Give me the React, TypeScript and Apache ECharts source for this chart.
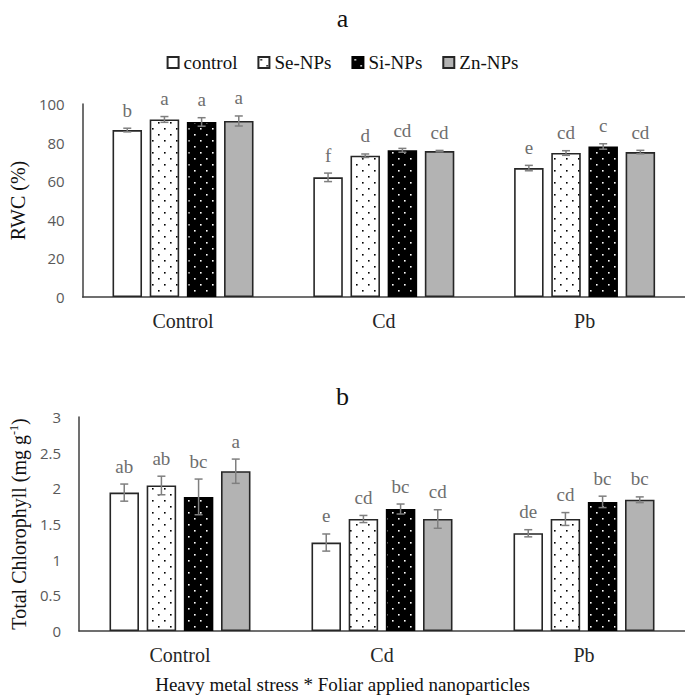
import React, { useEffect, useRef } from "react";
import * as echarts from "echarts";

// ---- Data ----
const groups = ["Control", "Cd", "Pb"];
const treatments = ["control", "Se-NPs", "Si-NPs", "Zn-NPs"];

// RWC (%)
const rwcControl = [86.5, 62.0, 66.8];
const rwcSe = [92.0, 73.2, 74.6];
const rwcSi = [90.7, 76.0, 78.0];
const rwcZn = [91.2, 75.6, 75.1];
const rwcErrControl = [0.95, 2.2, 1.4];
const rwcErrSe = [1.5, 0.9, 1.2];
const rwcErrSi = [2.2, 1.0, 1.4];
const rwcErrZn = [2.6, 0.35, 0.9];
const rwcLetControl = ["b", "f", "e"];
const rwcLetSe = ["a", "d", "cd"];
const rwcLetSi = ["a", "cd", "c"];
const rwcLetZn = ["a", "cd", "cd"];

// Total chlorophyll (mg g-1)
const chlControl = [1.94, 1.24, 1.37];
const chlSe = [2.04, 1.57, 1.57];
const chlSi = [1.88, 1.71, 1.81];
const chlZn = [2.24, 1.57, 1.84];
const chlErrControl = [0.12, 0.12, 0.05];
const chlErrSe = [0.13, 0.05, 0.09];
const chlErrSi = [0.25, 0.07, 0.08];
const chlErrZn = [0.17, 0.13, 0.04];
const chlLetControl = ["ab", "e", "de"];
const chlLetSe = ["ab", "cd", "cd"];
const chlLetSi = ["bc", "bc", "bc"];
const chlLetZn = ["a", "cd", "bc"];

const rwcTicks = { min: 0, max: 100, interval: 20 };
const chlTicks = { min: 0, max: 3, interval: 0.5 };

// ---- Styles ----
const SERIF = "'Liberation Serif', 'Times New Roman', serif";
const SANS = "'Open Sans', 'Noto Sans', sans-serif";
const BAR_W = 29.5;
const GAP = 0.26;
const ERR_COLOR = "#7f7f7f";
const LETTER_COLOR = "#6e6e6e";

function dotPattern(bg: string, dot: string) {
  const c = document.createElement("canvas");
  c.width = 12;
  c.height = 12;
  const ctx = c.getContext("2d")!;
  ctx.fillStyle = bg;
  ctx.fillRect(0, 0, 12, 12);
  ctx.fillStyle = dot;
  ctx.fillRect(2, 2, 1.6, 1.6);
  ctx.fillRect(8, 8, 1.6, 1.6);
  return { image: c, repeat: "repeat", imageWidth: 12, imageHeight: 12 } as any;
}

export default function App() {
  const ref = useRef<HTMLDivElement>(null);

  useEffect(() => {
    document.body.style.margin = "0";
    if (!ref.current) return;
    const chart = echarts.init(ref.current, null, { renderer: "svg" });

    const fills = [
      "#ffffff",
      dotPattern("#ffffff", "#000000"),
      dotPattern("#000000", "#ffffff"),
      "#b3b3b3",
    ];
    const borders = ["#262626", "#262626", "#000000", "#262626"];

    const rwcVals = [rwcControl, rwcSe, rwcSi, rwcZn];
    const rwcErrs = [rwcErrControl, rwcErrSe, rwcErrSi, rwcErrZn];
    const rwcLets = [rwcLetControl, rwcLetSe, rwcLetSi, rwcLetZn];
    const chlVals = [chlControl, chlSe, chlSi, chlZn];
    const chlErrs = [chlErrControl, chlErrSe, chlErrSi, chlErrZn];
    const chlLets = [chlLetControl, chlLetSe, chlLetSi, chlLetZn];

    const buildErrData = (vals: number[][], errs: number[][], lets: string[][]) => {
      const data: any[] = [];
      const labels: string[] = [];
      vals.forEach((arr, k) => {
        arr.forEach((v, i) => {
          data.push([i, v, errs[k][i], k]);
          labels.push(lets[k][i]);
        });
      });
      return { data, labels };
    };

    const makeRender = (labels: string[]) => (params: any, api: any) => {
      const cat = api.value(0);
      const val = api.value(1);
      const err = api.value(2);
      const k = api.value(3);
      const total = 4 * BAR_W + 3 * BAR_W * GAP;
      const c = api.coord([cat, val]);
      const x = c[0] - total / 2 + k * BAR_W * (1 + GAP) + BAR_W / 2;
      const yHi = api.coord([cat, val + err])[1];
      const yLo = api.coord([cat, val - err])[1];
      const cap = 4;
      const st = { stroke: ERR_COLOR, lineWidth: 1.5 };
      return {
        type: "group",
        children: [
          { type: "line", shape: { x1: x, y1: yHi, x2: x, y2: yLo }, style: st },
          { type: "line", shape: { x1: x - cap, y1: yHi, x2: x + cap, y2: yHi }, style: st },
          { type: "line", shape: { x1: x - cap, y1: yLo, x2: x + cap, y2: yLo }, style: st },
          {
            type: "text",
            x: x,
            y: yHi - 18,
            style: {
              text: labels[params.dataIndex],
              align: "center",
              verticalAlign: "middle",
              fontFamily: SERIF,
              fontSize: 19,
              fill: LETTER_COLOR,
            },
          },
        ],
      };
    };

    const rwcErr = buildErrData(rwcVals, rwcErrs, rwcLets);
    const chlErr = buildErrData(chlVals, chlErrs, chlLets);

    const barSeries = (vals: number[][], axis: number) =>
      vals.map((arr, k) => ({
        name: treatments[k],
        type: "bar",
        xAxisIndex: axis,
        yAxisIndex: axis,
        data: arr,
        barWidth: BAR_W,
        barGap: GAP * 100 + "%",
        itemStyle: { color: fills[k], borderColor: borders[k], borderWidth: 1.6 },
      }));

    const xAxisBase = (gridIndex: number) => ({
      type: "category",
      gridIndex,
      data: groups,
      axisLine: { lineStyle: { color: "#404040", width: 1.5 } },
      axisTick: { show: false },
      axisLabel: { fontFamily: SERIF, fontSize: 20, color: "#262626", margin: 14 },
    });

    const yAxisBase = (gridIndex: number) => ({
      type: "value",
      gridIndex,
      nameLocation: "middle",
      axisLine: { show: true, lineStyle: { color: "#404040", width: 1.5 } },
      axisTick: { show: false },
      splitLine: { show: false },
      axisLabel: { fontFamily: SANS, fontSize: 15, color: "#595959", margin: 18 },
    });

    const option: any = {
      animation: false,
      backgroundColor: "#ffffff",
      title: [
        {
          text: "a",
          left: "center",
          top: 0,
          textStyle: { fontFamily: SERIF, fontSize: 26, fontWeight: "normal", color: "#111" },
        },
        {
          text: "b",
          left: "center",
          top: 378,
          textStyle: { fontFamily: SERIF, fontSize: 26, fontWeight: "normal", color: "#111" },
        },
      ],
      legend: {
        data: treatments,
        left: "center",
        top: 48,
        itemWidth: 11,
        itemHeight: 11,
        itemGap: 20,
        icon: "rect",
        textStyle: { fontFamily: SERIF, fontSize: 19, color: "#111" },
      },
      grid: [
        { left: 76, top: 104, width: 609, height: 193 },
        { left: 71, top: 417, width: 614, height: 214 },
      ],
      xAxis: [xAxisBase(0), xAxisBase(1)],
      yAxis: [
        {
          ...yAxisBase(0),
          ...rwcTicks,
          name: "RWC (%)",
          nameGap: 52,
          nameTextStyle: { fontFamily: SERIF, fontSize: 20, color: "#111" },
        },
        {
          ...yAxisBase(1),
          ...chlTicks,
          name: "{n|Total Chlorophyll (mg g}{s|-1}{n|)}",
          nameGap: 47,
          nameTextStyle: {
            rich: {
              n: { fontFamily: SERIF, fontSize: 20, color: "#111" },
              s: { fontFamily: SERIF, fontSize: 12, color: "#111", verticalAlign: "top", padding: [0, 0, 10, 0] },
            },
          },
        },
      ],
      graphic: [
        {
          type: "text",
          left: "center",
          top: 675,
          style: {
            text: "Heavy metal stress * Foliar applied nanoparticles",
            fontFamily: SERIF,
            fontSize: 19,
            fill: "#111",
          },
        },
      ],
      series: [
        ...barSeries(rwcVals, 0),
        ...barSeries(chlVals, 1),
        {
          type: "custom",
          name: "errA",
          xAxisIndex: 0,
          yAxisIndex: 0,
          data: rwcErr.data,
          encode: { x: 0, y: 1 },
          renderItem: makeRender(rwcErr.labels),
          z: 10,
        },
        {
          type: "custom",
          name: "errB",
          xAxisIndex: 1,
          yAxisIndex: 1,
          data: chlErr.data,
          encode: { x: 0, y: 1 },
          renderItem: makeRender(chlErr.labels),
          z: 10,
        },
      ],
    };

    chart.setOption(option);
    return () => chart.dispose();
  }, []);

  return <div ref={ref} style={{ width: 685, height: 700 }} />;
}
